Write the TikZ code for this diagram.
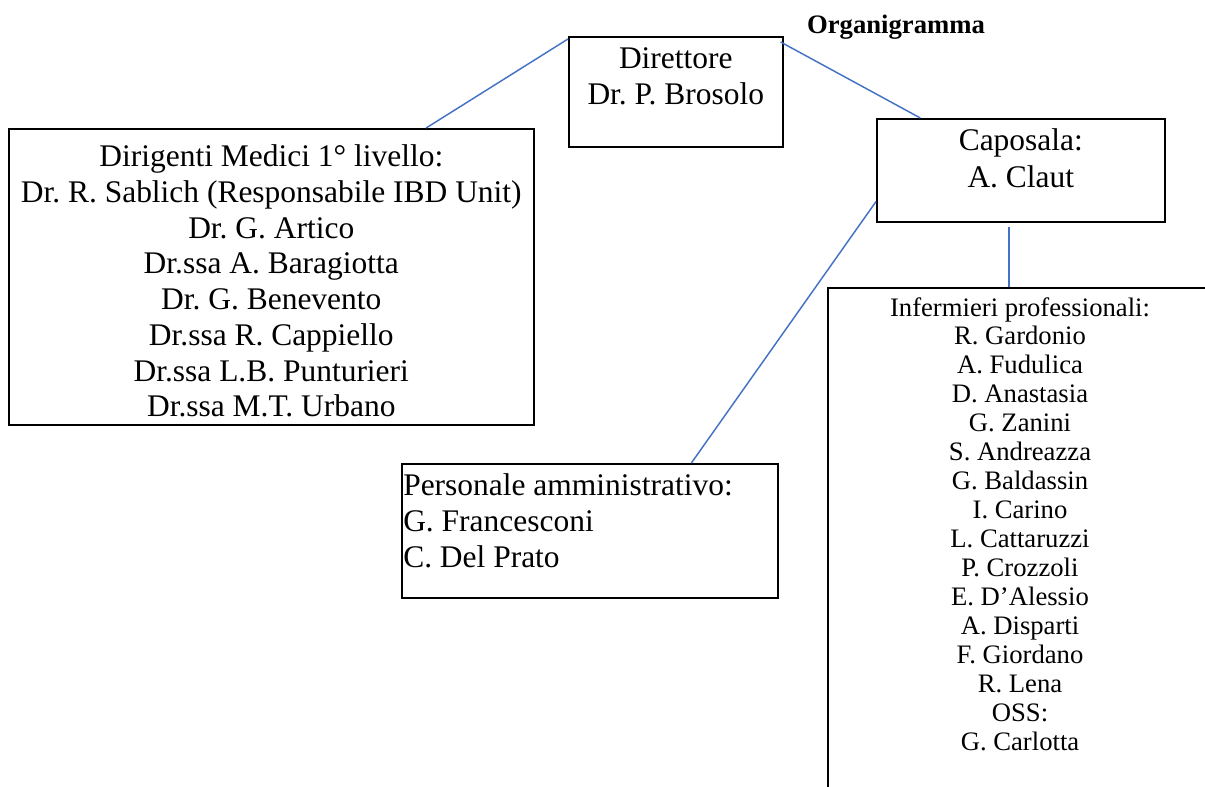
\documentclass[tikz,border=0pt]{standalone}
\usepackage{fontspec}
\setmainfont{Liberation Serif}
\usetikzlibrary{positioning,calc}
\definecolor{linkblue}{RGB}{68,114,196}
\frenchspacing
\tikzset{
  box/.style={draw, line width=1.2pt, rectangle, anchor=north west, inner sep=0pt},
  link/.style={draw=linkblue, line width=1.1pt},
  bigtxt/.style={font=\fontsize{23.6}{26.8}\selectfont, align=center, inner sep=0pt},
  smalltxt/.style={font=\fontsize{20}{21.7}\selectfont, align=center, inner sep=0pt},
}
\begin{document}
\begin{tikzpicture}[x=0.75pt, y=-0.75pt]
\useasboundingbox (0,0) rectangle (1205,787);
\node[font=\fontsize{20}{24}\selectfont\bfseries, inner sep=0pt] (title) at (896,27) {Organigramma};

\node[box, minimum width=160.5pt, minimum height=82.5pt] (dir) at (568,36) {};
\node[box, minimum width=216pt, minimum height=77.25pt] (capo) at (876,118) {};
\node[box, minimum width=393.75pt, minimum height=222pt] (dirig) at (8,128) {};
\node[box, minimum width=282pt, minimum height=100.5pt] (pers) at (401,463) {};
\node[box, minimum width=315pt, minimum height=450pt] (inf) at (827,287) {};

\node[bigtxt, below=8.5pt of dir.north] (dirtxt) {Direttore\\Dr. P. Brosolo};
\node[bigtxt, below=8pt of capo.north, font=\fontsize{23.6}{27.5}\selectfont] (capotxt) {Caposala:\\A. Claut};
\node[bigtxt, below=12.5pt of dirig.north] (dirigtxt) {Dirigenti Medici 1° livello:\\Dr. R. Sablich (Responsabile IBD Unit)\\Dr. G. Artico\\Dr.ssa A. Baragiotta\\Dr. G. Benevento\\Dr.ssa R. Cappiello\\Dr.ssa L.B. Punturieri\\Dr.ssa M.T. Urbano};
\node[bigtxt, align=left, below right=8pt and 1.5pt of pers.north west] (perstxt) {Personale amministrativo:\\G. Francesconi\\C. Del Prato};
\node[smalltxt, anchor=north] (inftxt) at ($(inf.north west)+(193,10)$) {Infermieri professionali:\\R. Gardonio\\A. Fudulica\\D. Anastasia\\G. Zanini\\S. Andreazza\\G. Baldassin\\I. Carino\\L. Cattaruzzi\\P. Crozzoli\\E. D’Alessio\\A. Disparti\\F. Giordano\\R. Lena\\OSS:\\G. Carlotta};

\draw[link] ($(dirig.north west)!0.794!(dirig.north east)$) -- ($(dir.north west)+(0,3)$);
\draw[link] ($(dir.north east)+(-3,6)$) -- ($(capo.north west)!0.153!(capo.north east)$);
\draw[link] ($(capo.south west)+(0,-21)$) -- ($(pers.north west)!0.769!(pers.north east)$);
\draw[link] ($(capo.south west)+(133,4)$) -- ($(inf.north west)+(182,0)$);
\end{tikzpicture}
\end{document}
